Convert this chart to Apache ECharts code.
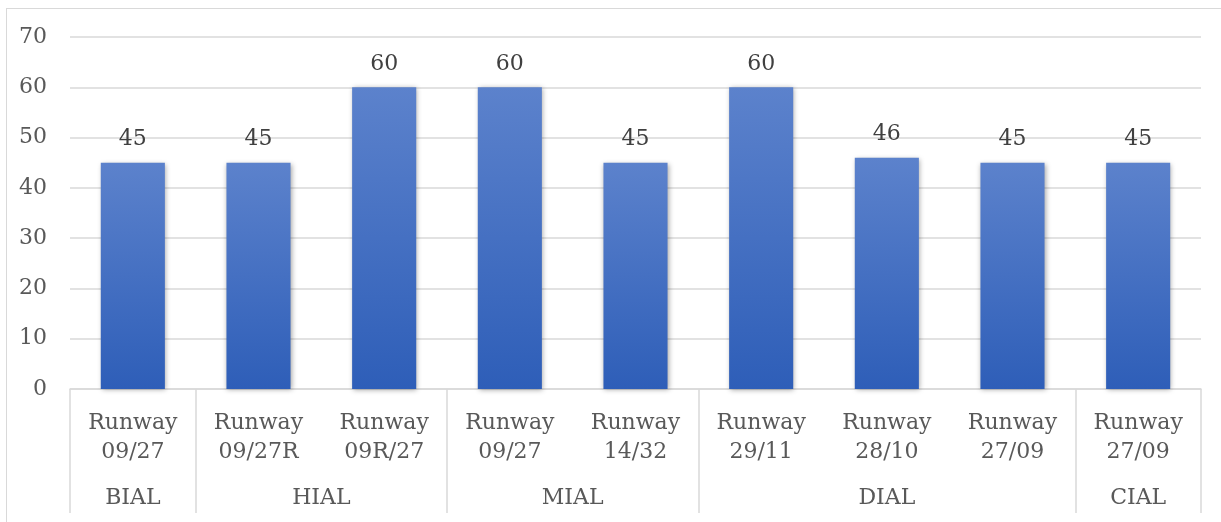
<!DOCTYPE html>
<html>
<head>
<meta charset="utf-8">
<script src="https://cdn.jsdelivr.net/npm/echarts@6/dist/echarts.min.js"></script>
<style>
  html, body { margin: 0; padding: 0; background: #fff; }
  #frame { position: absolute; left: 0; top: 0; width: 1221px; height: 522px; }
  #edge { position: absolute; left: 6px; top: 8px; width: 1215px; height: 514px;
          border-left: 1.5px solid #d9d9d9; border-top: 1.5px solid #d9d9d9; box-sizing: border-box; }
  #chart { position: absolute; left: 0; top: 0; width: 1221px; height: 522px; }
</style>
</head>
<body>
<div id="frame">
  <div id="edge"></div>
  <div id="chart"></div>
</div>
<script>
// Runway approach lighting lengths by airport
const runways = ['Runway\n09/27', 'Runway\n09/27R', 'Runway\n09R/27', 'Runway\n09/27', 'Runway\n14/32',
                 'Runway\n29/11', 'Runway\n28/10', 'Runway\n27/09', 'Runway\n27/09'];
const values = [45, 45, 60, 60, 45, 60, 46, 45, 45];
const groups = ['BIAL', 'HIAL', 'MIAL', 'DIAL', 'CIAL'];
const groupSizes = [1, 2, 2, 3, 1];
const yTicks = [0, 10, 20, 30, 40, 50, 60, 70];

// group boundaries and centres in category units
const boundaries = [0];
const centres = [];
groupSizes.forEach(function (n) {
  const start = boundaries[boundaries.length - 1];
  centres.push(start + n / 2);
  boundaries.push(start + n);
});

const FONT = 'DejaVu Serif';
const SIZE = 22;
const TEXT = '#595959';
const LINE = '#d9d9d9';

const chart = echarts.init(document.getElementById('chart'));
chart.setOption({
  animation: false,
  textStyle: { fontFamily: FONT },
  grid: { left: 70, right: 20, top: 37, bottom: 133, containLabel: false },
  xAxis: [
    {
      type: 'category',
      data: runways,
      position: 'bottom',
      axisLine: { show: true, lineStyle: { color: LINE, width: 1.5 } },
      axisTick: { show: false },
      axisLabel: {
        color: TEXT, fontFamily: FONT, fontSize: SIZE, lineHeight: 29,
        margin: 20, interval: 0, verticalAlign: 'top'
      }
    },
    {
      type: 'value',
      min: 0,
      max: runways.length,
      position: 'bottom',
      axisLine: { show: false },
      splitLine: { show: false },
      axisTick: {
        show: true, inside: false, length: 124,
        customValues: boundaries,
        lineStyle: { color: LINE, width: 1.5 }
      },
      axisLabel: {
        color: TEXT, fontFamily: FONT, fontSize: SIZE,
        margin: 98, verticalAlign: 'top',
        customValues: centres,
        formatter: function (v) {
          const i = centres.indexOf(v);
          return i >= 0 ? groups[i] : '';
        }
      }
    }
  ],
  yAxis: {
    type: 'value',
    min: yTicks[0],
    max: yTicks[yTicks.length - 1],
    interval: 10,
    axisLine: { show: false },
    axisTick: { show: false },
    axisLabel: { color: TEXT, fontFamily: FONT, fontSize: SIZE, margin: 23 },
    splitLine: { lineStyle: { color: LINE, width: 1.5 } }
  },
  series: [{
    type: 'bar',
    xAxisIndex: 0,
    data: values,
    barWidth: '51%',
    itemStyle: {
      color: new echarts.graphic.LinearGradient(0, 0, 0, 1, [
        { offset: 0, color: '#5c82cc' },
        { offset: 1, color: '#2e5eb8' }
      ]),
      shadowColor: 'rgba(0,0,0,0.35)',
      shadowBlur: 5,
      shadowOffsetX: 1,
      shadowOffsetY: 1
    },
    label: {
      show: true, position: 'top', distance: 12,
      color: '#404040', fontFamily: FONT, fontSize: SIZE
    }
  }]
});
</script>
</body>
</html>
